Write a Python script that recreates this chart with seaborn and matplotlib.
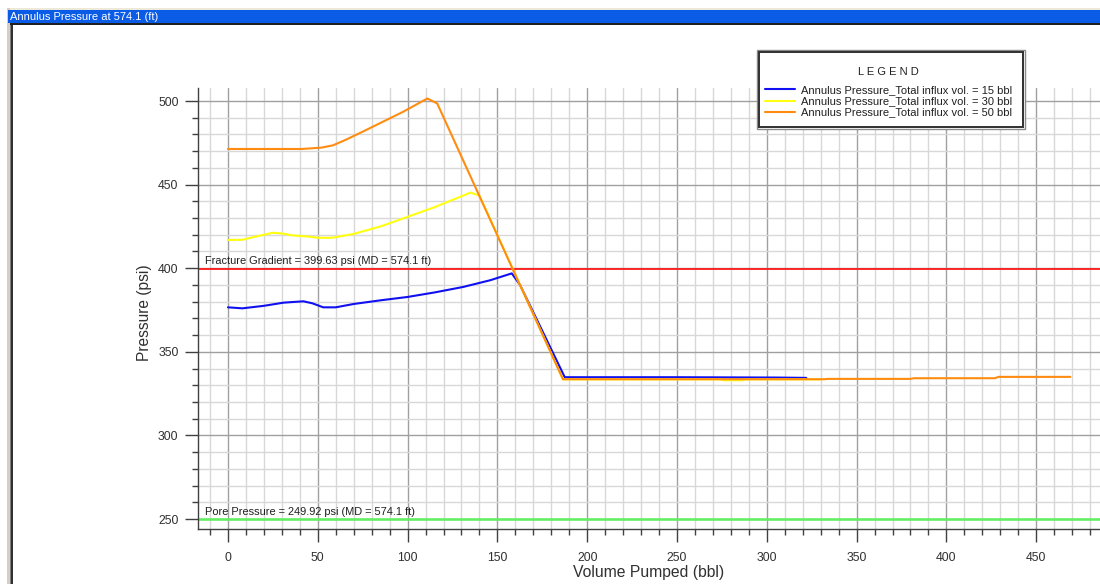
import numpy as np
import pandas as pd
import matplotlib
matplotlib.use("Agg")
import matplotlib.pyplot as plt
from matplotlib.patches import Rectangle
from matplotlib.ticker import MultipleLocator
import seaborn as sns

# ---- data ----
vol_15 = [0, 8, 20, 31, 42, 47, 53, 60, 70, 85, 100, 115, 131, 146, 158, 162.6, 187.5, 250, 305, 322]
p_15 = [376.6, 376.0, 377.5, 379.4, 380.2, 379.0, 376.6, 376.6, 378.6, 380.8, 382.8, 385.5, 388.8, 392.8, 396.9, 390.0, 334.8, 334.8, 334.6, 334.4]

vol_30 = [0, 8, 15, 25, 30, 36, 44, 50, 58, 70, 85, 97.6, 115, 135, 140, 186.5, 275, 275.5, 287, 287.5, 330]
p_30 = [416.9, 417.0, 418.8, 421.2, 420.8, 419.6, 419.0, 418.2, 418.2, 420.5, 425.0, 429.8, 436.5, 445.2, 443.4, 333.5, 333.5, 333.0, 333.0, 333.5, 333.5]

vol_50 = [0, 10, 41, 52, 58.5, 66, 77, 97.6, 111, 116.5, 186.5, 332, 334, 380, 382, 427, 429, 469]
p_50 = [471.3, 471.3, 471.3, 472.1, 473.5, 477.0, 482.7, 493.6, 501.5, 498.5, 333.6, 333.6, 333.8, 333.8, 334.2, 334.2, 335.0, 335.0]

labels = ["Annulus Pressure_Total influx vol. = 15 bbl",
          "Annulus Pressure_Total influx vol. = 30 bbl",
          "Annulus Pressure_Total influx vol. = 50 bbl"]
colors = ["#1010F0", "#FFFF10", "#FF8C10"]

fracture = 399.63
pore = 249.92
fracture_label = "Fracture Gradient = 399.63 psi (MD = 574.1 ft)"
pore_label = "Pore Pressure = 249.92 psi (MD = 574.1 ft)"
window_title = "Annulus Pressure at 574.1 (ft)"

# ---- figure ----
sns.set_style("white")
plt.rcParams['font.family'] = ['Liberation Sans', 'DejaVu Sans']

W, H = 1100, 584
fig = plt.figure(figsize=(W / 100, H / 100), dpi=100)
fig.patch.set_facecolor("white")

def px_rect(x0, y0, x1, y1, face, z=5, edge="none", lw=0):
    fig.add_artist(Rectangle((x0 / W, 1 - y1 / H), (x1 - x0) / W, (y1 - y0) / H,
                             transform=fig.transFigure, facecolor=face,
                             edgecolor=edge, linewidth=lw, zorder=z))

# window chrome
px_rect(7, 8, W, 10, "#ECE9D8")
px_rect(7, 8, 10, H, "#D4D0C8")
px_rect(10, 23, 11, H, "#808080")
px_rect(11, 23, 13, H, "#303030")
px_rect(8, 10, W, 23, "#0A5BE6")
px_rect(10, 23, W, 25, "#202020")
fig.text(10 / W, 1 - 16.5 / H, window_title, color="white", fontsize=8,
         ha="left", va="center", zorder=6)

ax_l, ax_r, ax_t, ax_b = 198, 1106, 88, 529
ax = fig.add_axes([ax_l / W, 1 - ax_b / H, (ax_r - ax_l) / W, (ax_b - ax_t) / H])

x_per_px = 1 / 1.796
y_per_px = 1 / 1.672
ax.set_xlim(0 - (228 - ax_l) * x_per_px, 0 + (ax_r - 228) * x_per_px)
ax.set_ylim(250 - (ax_b - 519) * y_per_px, 500 + (101 - ax_t) * y_per_px)

ax.xaxis.set_major_locator(MultipleLocator(50))
ax.xaxis.set_minor_locator(MultipleLocator(10))
ax.yaxis.set_major_locator(MultipleLocator(50))
ax.yaxis.set_minor_locator(MultipleLocator(10))
ax.grid(True, which="minor", color="#D8D8D8", lw=1.0)
ax.grid(True, which="major", color="#A0A0A0", lw=1.0)
ax.set_axisbelow(True)

for s in ["top", "right"]:
    ax.spines[s].set_visible(False)
for s in ["left", "bottom"]:
    ax.spines[s].set_color("#404040")
    ax.spines[s].set_linewidth(1.0)

ax.tick_params(which="major", direction="out", length=9.5, width=1, color="#404040",
               labelsize=8.8, labelcolor="#303030", left=True, bottom=True)
ax.tick_params(axis="x", which="major", pad=7)
ax.tick_params(axis="y", which="major", pad=4.5)
ax.tick_params(which="minor", direction="out", length=4, width=1, color="#404040",
               left=True, bottom=True)

# reference lines
ax.axhline(fracture, color="#FF1A1A", lw=1.3, zorder=2)
ax.axhline(pore, color="#60F060", lw=1.8, zorder=2)
ax.text((205 - 228) * x_per_px, fracture + 1.5, fracture_label, fontsize=7.9,
        color="#202020", ha="left", va="bottom")
ax.text((205 - 228) * x_per_px, pore + 1.5, pore_label, fontsize=7.9,
        color="#202020", ha="left", va="bottom")

series = [(vol_15, p_15), (vol_30, p_30), (vol_50, p_50)]
for (xs, ys), lab, c in zip(series, labels, colors):
    df = pd.DataFrame({"vol": xs, "p": ys})
    sns.lineplot(data=df, x="vol", y="p", sort=False, estimator=None, ax=ax,
                 color=c, lw=1.5, label=lab, legend=False, zorder=3)

ax.set_xlabel("")
ax.set_ylabel("")
fig.text(649 / W, 1 - 573 / H, "Volume Pumped (bbl)", fontsize=11.3,
         color="#303030", ha="center", va="center")
fig.text(145 / W, 1 - 313 / H, "Pressure (psi)", fontsize=11.2, rotation=90,
         color="#303030", ha="center", va="center")

# legend box (double border)
px_rect(757, 50, 1025, 129, "white", z=8, edge="#8A8A8A", lw=1.0)
px_rect(759, 52, 1023, 127, "none", z=8.5, edge="#303030", lw=1.4)

hl = [h for h in ax.get_lines() if h.get_label() in labels]
leg = fig.legend(hl, [h.get_label() for h in hl], loc="upper left",
                 bbox_to_anchor=(765 / W, 1 - 67 / H), bbox_transform=fig.transFigure,
                 title="L E G E N D", fontsize=8, title_fontsize=8,
                 frameon=False, borderpad=0, labelspacing=0.1,
                 handlelength=2.7, handletextpad=0.55, borderaxespad=0)
leg.set_zorder(9)
leg._legend_box.sep = 6
for t in leg.get_texts():
    t.set_color("#202020")
leg.get_title().set_color("#202020")

fig.savefig("out.png", dpi=100, facecolor="white")
